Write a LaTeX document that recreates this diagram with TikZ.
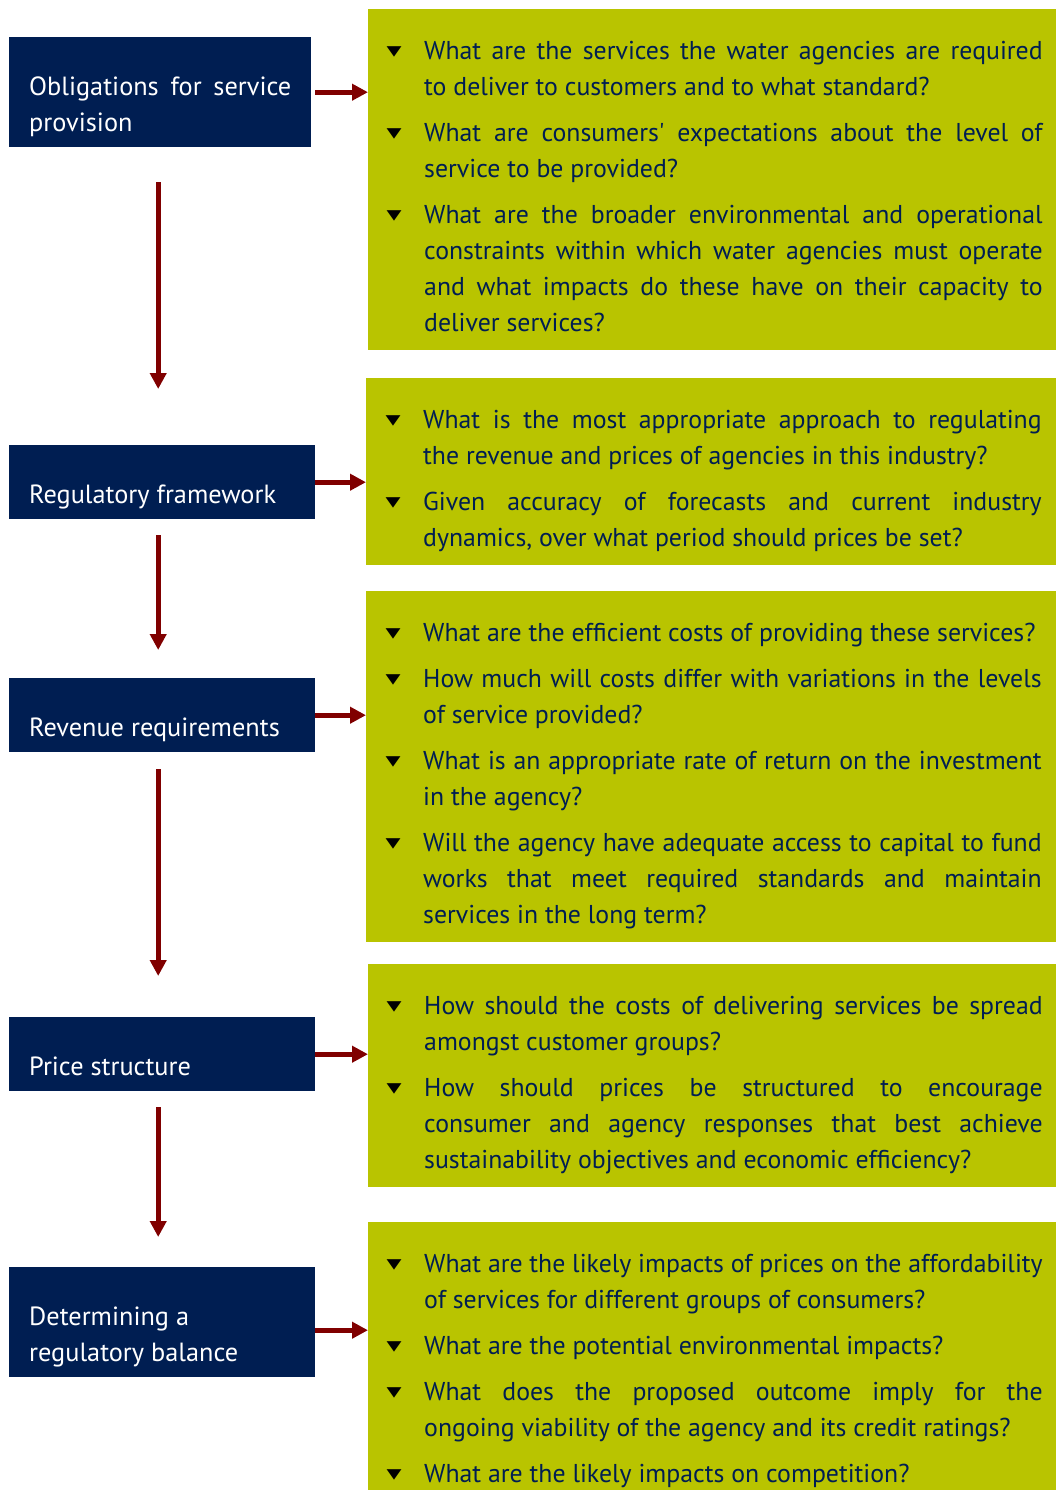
\documentclass[tikz,border=0pt]{standalone}
\usepackage{fontspec}
\setmainfont{PT Sans}
\newfontfamily\symfont{DejaVu Sans}
\usepackage{graphicx}
\usetikzlibrary{arrows.meta,positioning}
\definecolor{waternavy}{RGB}{0,30,82}
\definecolor{waterlime}{RGB}{185,196,0}
\definecolor{arrowred}{RGB}{128,0,0}
\hyphenpenalty=10000
\exhyphenpenalty=10000
\hbadness=10000

% bullets and vertical padding of the boxes
\newcommand{\qbullet}{\makebox[42.5pt][l]{\hspace{5pt}\raisebox{4pt}{\color{black}\resizebox*{15pt}{10.5pt}{\symfont ▼}}}}
\newcommand{\qfirst}{\hangindent=42.5pt\noindent\rule{0pt}{50pt}\qbullet}
\newcommand{\qitem}{\par\vspace{10pt}\hangindent=42.5pt\noindent\qbullet}
\newcommand{\qend}{\rule[-19pt]{0pt}{19pt}\par}
\newcommand{\stagetop}{\rule{0pt}{58pt}}
\newcommand{\stageend}{\rule[-16pt]{0pt}{16pt}\par}

\begin{document}
\begin{tikzpicture}[x=1pt, y=-1pt,
    stage/.style={rectangle, fill=waternavy, text=white, anchor=north west,
        font=\fontsize{26.3}{36}\selectfont, text width=266pt,
        inner xsep=20pt, inner ysep=0pt, align=justify},
    questions/.style={rectangle, fill=waterlime, text=waternavy, anchor=north west,
        font=\fontsize{25.8}{36}\selectfont, text width=661pt,
        inner xsep=13.5pt, inner ysep=0pt, align=justify},
    arr/.style={-{Triangle[length=16pt,width=16pt]}, line width=5pt, arrowred}
]
    \useasboundingbox (0,0) rectangle (1056,1490);

    % Stages on the left
    \node[stage, text width=262pt] (oblig) at (9,37)
        {\stagetop Obligations for service\linebreak provision\stageend};
    \node[stage] (regfw) at (9,445) {\stagetop Regulatory framework\stageend};
    \node[stage] (revreq) at (9,678) {\stagetop Revenue requirements\stageend};
    \node[stage] (pricestr) at (9,1017) {\stagetop Price structure\stageend};
    \node[stage] (balance) at (9,1267)
        {\stagetop Determining a\\ regulatory balance\stageend};

    % Questions on the right
    \node[questions] (qoblig) at (368,9) {%
        \qfirst What are the services the water agencies are required\linebreak to deliver to customers and to what standard?
        \qitem What are consumers\textquotesingle{} expectations about the level of\linebreak service to be provided?
        \qitem What are the broader environmental and operational\linebreak constraints within which water agencies must operate\linebreak and what impacts do these have on their capacity to\linebreak deliver services?\qend};
    \node[questions, minimum width=690pt] (qregfw) at (366,378) {%
        \qfirst What is the most appropriate approach to regulating\linebreak the revenue and prices of agencies in this industry?
        \qitem Given accuracy of forecasts and current industry\linebreak dynamics, over what period should prices be set?\qend};
    \node[questions, minimum width=690pt] (qrevreq) at (366,591) {%
        \qfirst What are the efficient costs of providing these services?
        \qitem How much will costs differ with variations in the levels\linebreak of service provided?
        \qitem What is an appropriate rate of return on the investment\linebreak in the agency?
        \qitem Will the agency have adequate access to capital to fund\linebreak works that meet required standards and maintain\linebreak services in the long term?\qend};
    \node[questions] (qprice) at (368,964) {%
        \qfirst How should the costs of delivering services be spread\linebreak amongst customer groups?
        \qitem How should prices be structured to encourage\linebreak consumer and agency responses that best achieve\linebreak sustainability objectives and economic efficiency?\qend};
    \node[questions] (qbalance) at (368,1222) {%
        \qfirst What are the likely impacts of prices on the affordability\linebreak of services for different groups of consumers?
        \qitem What are the potential environmental impacts?
        \qitem What does the proposed outcome imply for the\linebreak ongoing viability of the agency and its credit ratings?
        \qitem What are the likely impacts on competition?\qend};

    % Arrows to the questions
    \coordinate (balancearrow) at ([yshift=-8pt]balance.east);
    \draw[arr] ([xshift=4pt]oblig.east) -- (oblig.east -| qoblig.west);
    \draw[arr] (regfw.east) -- (regfw.east -| qregfw.west);
    \draw[arr] (revreq.east) -- (revreq.east -| qrevreq.west);
    \draw[arr] (pricestr.east) -- (pricestr.east -| qprice.west);
    \draw[arr] (balancearrow) -- (balancearrow -| qbalance.west);

    % Arrows down the stages
    \draw[arr, shorten <=35pt, shorten >=56pt] ([xshift=-2pt]oblig.south) -- ([xshift=-4pt]regfw.north);
    \draw[arr, shorten <=16pt, shorten >=28pt] ([xshift=-4pt]regfw.south) -- ([xshift=-4pt]revreq.north);
    \draw[arr, shorten <=17pt, shorten >=41pt] ([xshift=-4pt]revreq.south) -- ([xshift=-4pt]pricestr.north);
    \draw[arr, shorten <=16pt, shorten >=30pt] ([xshift=-4pt]pricestr.south) -- ([xshift=-4pt]balance.north);
\end{tikzpicture}
\end{document}
